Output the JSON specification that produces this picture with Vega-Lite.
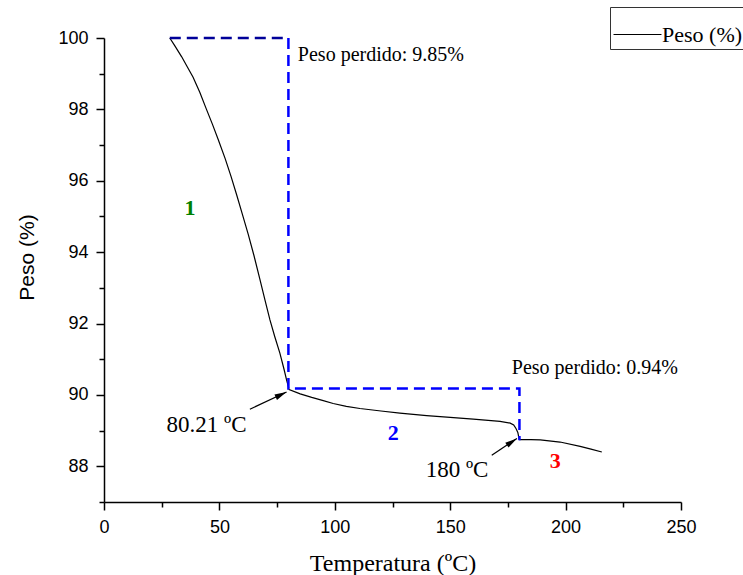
{
  "$schema": "https://vega.github.io/schema/vega-lite/v6.json",
  "width": 577,
  "height": 464,
  "autosize": {"type": "none"},
  "padding": {"left": 104, "top": 38, "right": 62, "bottom": 73},
  "background": "white",
  "config": {
    "view": {"stroke": null},
    "axis": {"grid": false, "domainColor": "black", "domainWidth": 1.5, "tickColor": "black", "tickWidth": 1.5, "labelColor": "black", "titleColor": "black", "labelFont": "Liberation Sans", "labelFontSize": 18, "titleFontWeight": "normal", "labelFlush": false},
    "legend": {"orient": "none", "legendX": 506, "legendY": -31, "strokeColor": "#333", "padding": 3, "symbolType": "stroke", "symbolSize": 2300, "symbolStrokeWidth": 1, "labelFont": "Liberation Serif", "labelFontSize": 22, "labelColor": "black", "labelOffset": 0, "titleFontSize": 0}
  },
  "datasets": {
    "curve": [
      {"t": 28.5, "w": 100.0}, {"t": 30.5, "w": 99.8}, {"t": 33.6, "w": 99.48}, {"t": 36.0, "w": 99.2}, {"t": 38.6, "w": 98.9}, {"t": 41.5, "w": 98.48}, {"t": 44.4, "w": 98.0}, {"t": 47.0, "w": 97.58}, {"t": 49.4, "w": 97.17}, {"t": 52.5, "w": 96.62}, {"t": 55.0, "w": 96.13}, {"t": 57.5, "w": 95.6}, {"t": 60.0, "w": 95.05}, {"t": 62.5, "w": 94.5}, {"t": 65.0, "w": 93.9}, {"t": 67.5, "w": 93.25}, {"t": 69.7, "w": 92.67}, {"t": 71.9, "w": 92.1}, {"t": 74.0, "w": 91.63}, {"t": 76.2, "w": 91.17}, {"t": 78.0, "w": 90.72}, {"t": 79.1, "w": 90.42}, {"t": 80.2, "w": 90.15},
      {"t": 85.0, "w": 90.03}, {"t": 90.0, "w": 89.93}, {"t": 95.0, "w": 89.84}, {"t": 99.3, "w": 89.76}, {"t": 105.0, "w": 89.68}, {"t": 110.9, "w": 89.62}, {"t": 120.0, "w": 89.55}, {"t": 128.2, "w": 89.49}, {"t": 139.8, "w": 89.42}, {"t": 150.0, "w": 89.37}, {"t": 160.0, "w": 89.32}, {"t": 171.6, "w": 89.26}, {"t": 176.0, "w": 89.21}, {"t": 177.5, "w": 89.16}, {"t": 178.5, "w": 89.06}, {"t": 179.3, "w": 88.95}, {"t": 179.7, "w": 88.82}, {"t": 180.0, "w": 88.75},
      {"t": 185.0, "w": 88.75}, {"t": 189.0, "w": 88.74}, {"t": 197.6, "w": 88.68}, {"t": 206.3, "w": 88.56}, {"t": 211.0, "w": 88.48}, {"t": 215.7, "w": 88.4}
    ],
    "guides": [
      {"seg": "a", "o": 1, "t": 28.5, "w": 100.0},
      {"seg": "a", "o": 2, "t": 79.9, "w": 100.0},
      {"seg": "b", "o": 1, "t": 79.9, "w": 100.0},
      {"seg": "b", "o": 2, "t": 79.9, "w": 90.18},
      {"seg": "b", "o": 3, "t": 180.0, "w": 90.18},
      {"seg": "b", "o": 4, "t": 180.0, "w": 88.73}
    ],
    "arrows": [
      {"id": "a1", "t": 63.2, "w": 89.6, "t2": 79.1, "w2": 90.08},
      {"id": "a2", "t": 168.0, "w": 88.31, "t2": 178.9, "w2": 88.78}
    ],
    "labels": [
      {"kind": "pp", "t": 84.0, "w": 99.36, "text": "Peso perdido: 9.85%"},
      {"kind": "pp", "t": 176.7, "w": 90.6, "text": "Peso perdido: 0.94%"},
      {"kind": "temp", "t": 27.1, "w": 88.96, "text": "80.21 ºC"},
      {"kind": "temp", "t": 139.4, "w": 87.7, "text": "180 ºC"},
      {"kind": "n1", "t": 37.3, "w": 95.04, "text": "1"},
      {"kind": "n2", "t": 125.3, "w": 88.73, "text": "2"},
      {"kind": "n3", "t": 195.5, "w": 87.94, "text": "3"}
    ]
  },
  "resolve": {"axis": {"x": "independent", "y": "independent"}},
  "layer": [
    {
      "data": {"name": "curve"},
      "mark": {"type": "line", "strokeWidth": 1.2},
      "encoding": {
        "x": {"field": "t", "type": "quantitative", "scale": {"domain": [0, 250], "nice": false, "zero": false},
              "axis": {"orient": "bottom", "values": [0, 50, 100, 150, 200, 250], "tickSize": 8, "labelPadding": 8, "title": "Temperatura (ºC)", "titleFont": "Liberation Serif", "titleFontSize": 24, "titleBaseline": "alphabetic", "titleY": 68}},
        "y": {"field": "w", "type": "quantitative", "scale": {"domain": [87, 100], "nice": false, "zero": false},
              "axis": {"orient": "left", "values": [88, 90, 92, 94, 96, 98, 100], "tickSize": 8, "labelPadding": 8, "title": "Peso (%)", "titleFont": "Liberation Sans", "titleFontSize": 21, "titleBaseline": "alphabetic", "titleAngle": 270, "titleX": -71, "titleY": 219}},
        "color": {"datum": "Peso (%)", "type": "nominal", "scale": {"domain": ["Peso (%)"], "range": ["black"]}, "legend": {"title": null}}
      }
    },
    {
      "data": {"name": "guides"},
      "transform": [{"filter": "datum.seg == 'a'"}],
      "mark": {"type": "line", "color": "#000099", "strokeWidth": 2.5, "strokeDash": [11, 6]},
      "encoding": {
        "x": {"field": "t", "type": "quantitative", "axis": {"orient": "bottom", "values": [25, 75, 125, 175, 225], "tickSize": 5, "labels": false, "domain": false, "title": null}},
        "y": {"field": "w", "type": "quantitative", "axis": {"orient": "left", "values": [87, 89, 91, 93, 95, 97, 99], "tickSize": 5, "labels": false, "domain": false, "title": null}},
        "order": {"field": "o"}
      }
    },
    {
      "data": {"name": "guides"},
      "transform": [{"filter": "datum.seg == 'b'"}],
      "mark": {"type": "line", "color": "#0000ff", "strokeWidth": 2.5, "strokeDash": [11, 6]},
      "encoding": {
        "x": {"field": "t", "type": "quantitative", "axis": null},
        "y": {"field": "w", "type": "quantitative", "axis": null},
        "order": {"field": "o"}
      }
    },
    {
      "data": {"name": "arrows"},
      "mark": {"type": "rule", "color": "black", "strokeWidth": 1.2},
      "encoding": {
        "x": {"field": "t", "type": "quantitative", "axis": null},
        "y": {"field": "w", "type": "quantitative", "axis": null},
        "x2": {"field": "t2"},
        "y2": {"field": "w2"}
      }
    },
    {
      "data": {"name": "arrows"},
      "transform": [{"filter": "datum.id == 'a1'"}],
      "mark": {"type": "point", "shape": "M0,0L-0.5,2L0.5,2Z", "size": 144, "filled": true, "color": "black", "opacity": 1, "angle": 64.8},
      "encoding": {
        "x": {"field": "t2", "type": "quantitative", "axis": null},
        "y": {"field": "w2", "type": "quantitative", "axis": null}
      }
    },
    {
      "data": {"name": "arrows"},
      "transform": [{"filter": "datum.id == 'a2'"}],
      "mark": {"type": "point", "shape": "M0,0L-0.5,2L0.5,2Z", "size": 144, "filled": true, "color": "black", "opacity": 1, "angle": 56.3},
      "encoding": {
        "x": {"field": "t2", "type": "quantitative", "axis": null},
        "y": {"field": "w2", "type": "quantitative", "axis": null}
      }
    },
    {
      "data": {"name": "labels"},
      "transform": [{"filter": "datum.kind == 'pp'"}],
      "mark": {"type": "text", "font": "Liberation Serif", "fontSize": 20, "align": "left", "baseline": "alphabetic", "color": "black"},
      "encoding": {
        "x": {"field": "t", "type": "quantitative", "axis": null},
        "y": {"field": "w", "type": "quantitative", "axis": null},
        "text": {"field": "text"}
      }
    },
    {
      "data": {"name": "labels"},
      "transform": [{"filter": "datum.kind == 'temp'"}],
      "mark": {"type": "text", "font": "Liberation Serif", "fontSize": 23, "align": "left", "baseline": "alphabetic", "color": "black"},
      "encoding": {
        "x": {"field": "t", "type": "quantitative", "axis": null},
        "y": {"field": "w", "type": "quantitative", "axis": null},
        "text": {"field": "text"}
      }
    },
    {
      "data": {"name": "labels"},
      "transform": [{"filter": "datum.kind == 'n1'"}],
      "mark": {"type": "text", "font": "Liberation Serif", "fontSize": 22, "fontWeight": "bold", "align": "center", "baseline": "alphabetic", "color": "#008000"},
      "encoding": {
        "x": {"field": "t", "type": "quantitative", "axis": null},
        "y": {"field": "w", "type": "quantitative", "axis": null},
        "text": {"field": "text"}
      }
    },
    {
      "data": {"name": "labels"},
      "transform": [{"filter": "datum.kind == 'n2'"}],
      "mark": {"type": "text", "font": "Liberation Serif", "fontSize": 22, "fontWeight": "bold", "align": "center", "baseline": "alphabetic", "color": "#0000ff"},
      "encoding": {
        "x": {"field": "t", "type": "quantitative", "axis": null},
        "y": {"field": "w", "type": "quantitative", "axis": null},
        "text": {"field": "text"}
      }
    },
    {
      "data": {"name": "labels"},
      "transform": [{"filter": "datum.kind == 'n3'"}],
      "mark": {"type": "text", "font": "Liberation Serif", "fontSize": 22, "fontWeight": "bold", "align": "center", "baseline": "alphabetic", "color": "#ff0000"},
      "encoding": {
        "x": {"field": "t", "type": "quantitative", "axis": null},
        "y": {"field": "w", "type": "quantitative", "axis": null},
        "text": {"field": "text"}
      }
    }
  ]
}
